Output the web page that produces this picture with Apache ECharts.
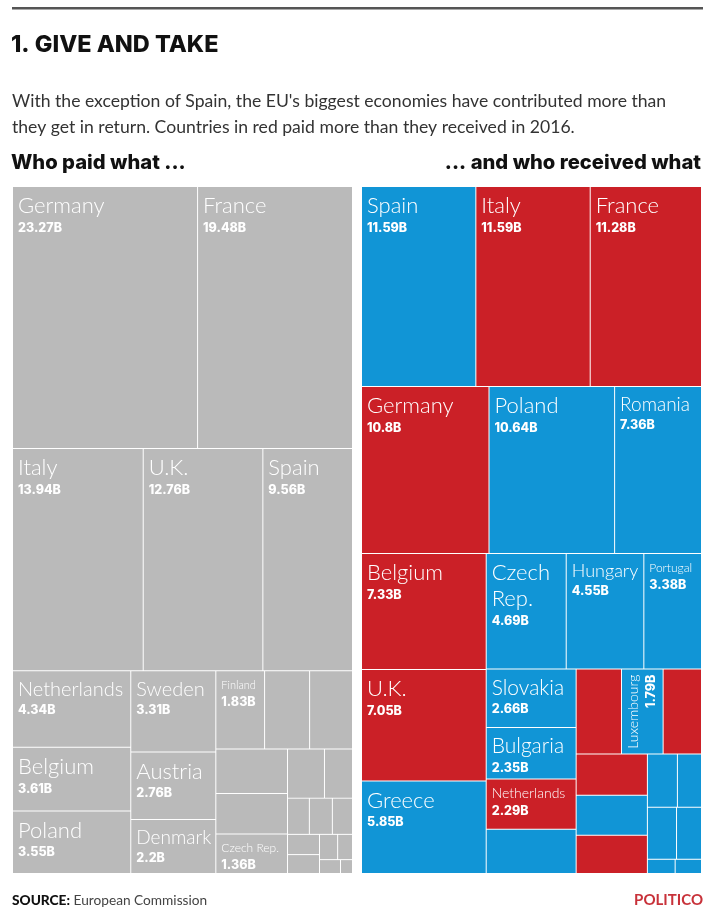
<!DOCTYPE html>
<html>
<head>
<meta charset="utf-8">
<style>html,body{margin:0;padding:0;background:#fff}#chart{width:714px;height:918px}</style>
<script src="https://cdn.jsdelivr.net/npm/echarts@6/dist/echarts.min.js"></script>
</head>
<body>
<div id="chart"></div>
<script>
// who paid: blank names are the cells the original leaves unlabelled
var paidNames = ['Germany', 'France', 'Italy', 'U.K.', 'Spain', 'Netherlands', 'Belgium', 'Poland', 'Sweden', 'Austria', 'Denmark', 'Finland', '', '', '', '', 'Czech Rep.', '', '', '', '', '', '', '', '', '', '', ''];
var paidValues = [23.27, 19.48, 13.94, 12.76, 9.56, 4.34, 3.61, 3.55, 3.31, 2.76, 2.2, 1.83, 1.69, 1.61, 1.53, 1.39, 1.36, 0.87, 0.66, 0.38, 0.40, 0.35, 0.31, 0.29, 0.22, 0.18, 0.14, 0.08];

// who received
var receivedNames = ['Spain', 'Italy', 'France', 'Germany', 'Poland', 'Romania', 'Belgium', 'U.K.', 'Greece', 'Czech\nRep.', 'Hungary', 'Portugal', 'Slovakia', 'Bulgaria', 'Netherlands', '', '', 'Luxembourg', '', '', '', '', '', '', '', '', '', ''];
var receivedValues = [11.59, 11.59, 11.28, 10.8, 10.64, 7.36, 7.33, 7.05, 5.85, 4.69, 4.55, 3.38, 2.66, 2.35, 2.29, 2.02, 1.95, 1.79, 1.65, 1.49, 1.45, 1.38, 0.81, 0.65, 0.77, 0.66, 0.2, 0.19];
// paid more than received in 2016
var receivedNetPayer = [0, 1, 1, 1, 0, 0, 1, 1, 0, 0, 0, 0, 0, 0, 1, 0, 1, 0, 1, 1, 0, 1, 0, 0, 0, 0, 0, 0];

// grouping of the cells (indexes into the arrays above), treemap splits each pair
var paidCorner = [[17, 18], [[19, [20, 21]], [[22, 23], [[24, 25], [26, 27]]]]];
var paidBlock = [[11, [12, 13]], [[14, [15, 16]], paidCorner]];
var paidRow3 = [[5, [6, 7]], [[8, [9, 10]], paidBlock]];
var paidGroups = [[0, 1], [[[2, 3], 4], paidRow3]];

var receivedCorner = [[19, [20, 21]], [[22, 23], [[24, 25], [26, 27]]]];
var receivedBlock = [[12, [13, [14, 15]]], [[[16, 17], 18], receivedCorner]];
var receivedLower = [[6, [7, 8]], [[9, [10, 11]], receivedBlock]];
var receivedGroups = [[[0, 1], 2], [[[3, 4], 5], receivedLower]];

// name font size per cell
var paidSizes = [22, 22, 22, 22, 22, 20, 22, 22, 20, 22, 19, 11, 0, 0, 0, 0, 12];
var receivedSizes = [22, 22, 22, 22, 22, 19, 22, 22, 22, 22, 18, 12, 21, 21, 14, 0, 0, 14];

var RED = '#cb2027', BLUE = '#1195d6', GRAY = '#bababa';
var FONT = 'Lato', HEAVY = 'Inter';

var chart = echarts.init(document.getElementById('chart'));

function labelFor(name, value, size, rotated) {
    var lines = name.split('\n').map(function (s) { return '{n|' + s + '}'; });
    lines.push('{v|' + value + 'B}');
    var label = {
        show: true,
        overflow: 'none',
        padding: 0,
        position: [5, 6],
        formatter: lines.join('\n'),
        rich: {
            n: { fontFamily: FONT, fontWeight: 300, fontSize: size, lineHeight: Math.max(16, Math.round(size * 1.1) + 2), color: '#fff' },
            v: { fontFamily: HEAVY, fontWeight: 800, fontSize: 12.5, lineHeight: 18, color: '#fff' }
        }
    };
    if (rotated) {
        label.position = [3, 5];
        label.rotate = 90;
        label.align = 'right';
        label.verticalAlign = 'top';
        label.rich.n.align = 'right';
        label.rich.v.align = 'right';
    }
    return label;
}

function buildNodes(group, names, values, sizes, colorOf) {
    if (Array.isArray(group)) {
        return {
            name: '',
            children: group.map(function (g) { return buildNodes(g, names, values, sizes, colorOf); })
        };
    }
    var name = names[group];
    return {
        name: name,
        value: values[group],
        itemStyle: { color: colorOf(group) },
        label: name ? labelFor(name, values[group], sizes[group], name === 'Luxembourg') : { show: false }
    };
}

function treemap(left, data) {
    return {
        type: 'treemap',
        left: left,
        top: 187,
        width: 339,
        height: 686,
        roam: false,
        nodeClick: false,
        silent: true,
        sort: false,
        squareRatio: 1,
        visibleMin: 0,
        animation: false,
        breadcrumb: { show: false },
        upperLabel: { show: false },
        itemStyle: { gapWidth: 1, borderWidth: 0, borderColor: '#fff' },
        data: data
    };
}

function text(left, top, str, size, weight, color, extra) {
    return {
        left: left, right: extra && extra.right, top: top, text: str, padding: 0,
        textStyle: Object.assign({ fontFamily: FONT, fontSize: size, fontWeight: weight, color: color }, extra && extra.style)
    };
}

var heavy = { style: { fontFamily: HEAVY } };

chart.setOption({
    backgroundColor: '#fff',
    animation: false,
    title: [
        text(11, 33, '1. GIVE AND TAKE', 23.5, 800, '#111', heavy),
        text(12, 92, "With the exception of Spain, the EU's biggest economies have contributed more than", 17.6, 400, '#333'),
        text(12, 118, 'they get in return. Countries in red paid more than they received in 2016.', 17.6, 400, '#333'),
        text(11, 153, 'Who paid what ...', 20.2, 800, '#111', heavy),
        text(undefined, 153, '... and who received what', 20.2, 800, '#111', { right: 13, style: { fontFamily: HEAVY } }),
        text(12, 894, '{b|SOURCE:} {r|European Commission}', 13.7, 400, '#333', {
            style: { rich: {
                b: { fontFamily: FONT, fontWeight: 900, fontSize: 13.7, color: '#111' },
                r: { fontFamily: FONT, fontWeight: 400, fontSize: 13.7, color: '#444' }
            } }
        }),
        text(undefined, 893, 'POLITICO', 15, 700, '#c8323a', { right: 11 })
    ],
    graphic: [{
        type: 'rect',
        shape: { x: 12, y: 7, width: 691, height: 2.5 },
        style: { fill: '#555' }
    }],
    series: [
        treemap(13, buildNodes(paidGroups, paidNames, paidValues, paidSizes, function () { return GRAY; }).children),
        treemap(362, buildNodes(receivedGroups, receivedNames, receivedValues, receivedSizes, function (i) {
            return receivedNetPayer[i] ? RED : BLUE;
        }).children)
    ]
});
</script>
</body>
</html>
